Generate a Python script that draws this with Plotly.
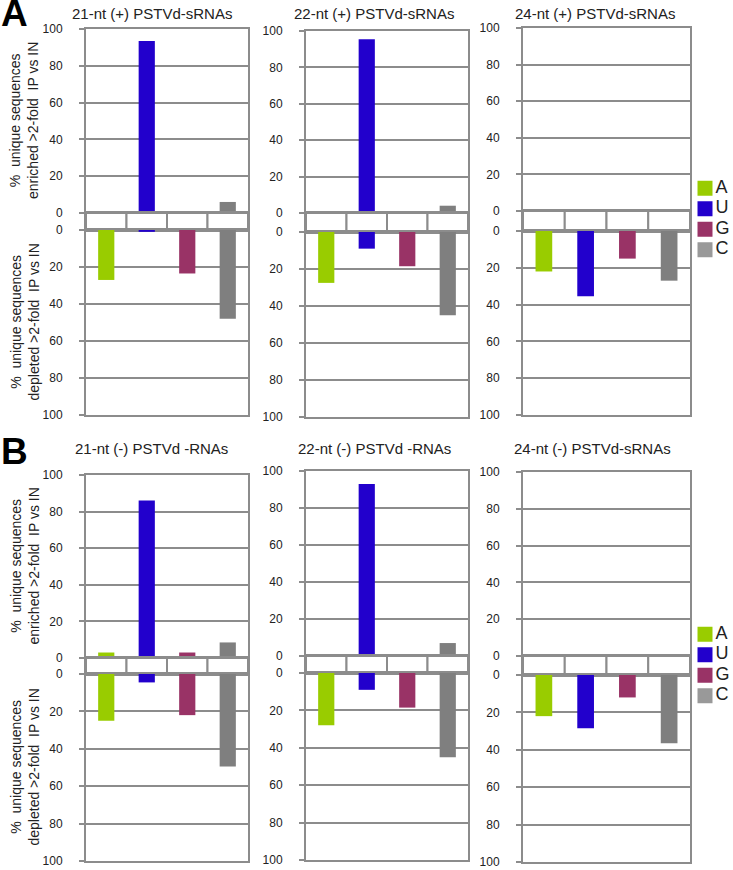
import plotly.graph_objects as go

W, H = 733, 870

nucleotides = ["A", "U", "G", "C"]
nuc_colors = ["#99CC00", "#2200CC", "#993366", "#7F7F7F"]
key_colors = ["#99CC00", "#2200CC", "#993366", "#999999"]
tick_values = [0, 20, 40, 60, 80, 100]

titles_A = ["21-nt (+) PSTVd-sRNAs", "22-nt (+) PSTVd-sRNAs", "24-nt (+) PSTVd-sRNAs"]
titles_B = ["21-nt (-) PSTVd -RNAs", "22-nt (-) PSTVd -RNAs", "24-nt (-) PSTVd-sRNAs"]

# % unique sequences enriched / depleted (>2-fold IP vs IN), order A, U, G, C
a21_enriched = [0, 93.5, 0, 6]
a21_depleted = [27, 1, 23.5, 48]
a22_enriched = [0, 95.5, 0, 4]
a22_depleted = [27.5, 9, 18.5, 45]
a24_enriched = [0, 0, 0, 0]
a24_depleted = [22, 35.5, 15, 27]

b21_enriched = [3, 86, 3, 8.5]
b21_depleted = [25, 4.5, 22, 49.5]
b22_enriched = [0, 93, 0, 7]
b22_depleted = [28, 9, 18.5, 45]
b24_enriched = [0, 0, 0, 0]
b24_depleted = [22, 28.5, 12, 36.5]

band_cells = [1, 1, 1, 1]

panels = [
    ("A", titles_A, [(a21_enriched, a21_depleted), (a22_enriched, a22_depleted), (a24_enriched, a24_depleted)]),
    ("B", titles_B, [(b21_enriched, b21_depleted), (b22_enriched, b22_depleted), (b24_enriched, b24_depleted)]),
]

# layout geometry in pixels
col_x = [(86, 248), (306, 468), (523, 690)]
rows_px = {
    "A": [(29, 213, 230, 415), (31, 213, 232, 417), (28, 211, 231, 415)],
    "B": [(475, 658, 674, 861), (471, 656, 673, 860), (472, 656, 675, 862)],
}
title_px = {"A": [(152, 14), (374, 14), (595, 14)], "B": [(151, 449), (374, 449), (592, 449)]}
key_box = {"A": (697, 713, 178, 260), "B": (697, 713, 624, 706)}
letter_y = {"A": 14, "B": 452}

GRID = "#8C8C8C"
TXT = "#222222"
FONT = "Liberation Sans, Arial, sans-serif"


def fx(p):
    return p / W


def fy(p):
    return 1 - p / H


fig = go.Figure()
layout = {}
annotations = []
ax = 0


def new_axes():
    global ax
    ax += 1
    return "" if ax == 1 else str(ax)


def add_axes(xd, yd, kind):
    sx = new_axes()
    xa = dict(domain=xd, anchor="y" + sx, range=[-0.5, 3.5], type="category",
              categoryorder="array", categoryarray=nucleotides,
              showticklabels=False, ticks="", showgrid=False, zeroline=False,
              showline=True, mirror=True, linecolor=GRID, linewidth=2, fixedrange=True)
    ya = dict(domain=yd, anchor="x" + sx, showline=True, mirror=True, linecolor=GRID,
              linewidth=2, zeroline=False, fixedrange=True)
    if kind == "band":
        ya.update(range=[0, 1], showgrid=False, showticklabels=False, ticks="")
    else:
        ya.update(range=[0, 100] if kind == "up" else [100, 0], tickvals=tick_values,
                  showgrid=True, gridcolor=GRID, gridwidth=2, ticks="outside", ticklen=5,
                  tickwidth=2, tickcolor=GRID, ticklabelstandoff=14,
                  tickfont=dict(family=FONT, size=12, color=TXT))
    layout["xaxis" + sx] = xa
    layout["yaxis" + sx] = ya
    return "x" + sx, "y" + sx


for letter, titles, data in panels:
    for ci, (enr, dep) in enumerate(data):
        x0, x1 = col_x[ci]
        top, z_up, z_dn, bot = rows_px[letter][ci]
        xd = [fx(x0), fx(x1)]
        # upper (enriched)
        xr, yr = add_axes(xd, [fy(z_up), fy(top)], "up")
        for ni, nuc in enumerate(nucleotides):
            fig.add_trace(go.Bar(x=[nuc], y=[enr[ni]], xaxis=xr, yaxis=yr, width=0.4,
                                 marker=dict(color=nuc_colors[ni], line=dict(width=0)),
                                 name=nuc, showlegend=False))
        # band of category cells
        xr, yr = add_axes(xd, [fy(z_dn), fy(z_up)], "band")
        fig.add_trace(go.Bar(x=nucleotides, y=band_cells, xaxis=xr, yaxis=yr, width=1,
                             marker=dict(color="white", line=dict(color=GRID, width=2)),
                             showlegend=False, hoverinfo="skip"))
        # lower (depleted)
        xr, yr = add_axes(xd, [fy(bot), fy(z_dn)], "down")
        for ni, nuc in enumerate(nucleotides):
            fig.add_trace(go.Bar(x=[nuc], y=[dep[ni]], xaxis=xr, yaxis=yr, width=0.4,
                                 marker=dict(color=nuc_colors[ni], line=dict(width=0)),
                                 name=nuc, showlegend=False))
        tx, ty = title_px[letter][ci]
        annotations.append(dict(x=fx(tx), y=fy(ty), xref="paper", yref="paper",
                                xanchor="center", yanchor="middle",
                                text=titles[ci], showarrow=False,
                                font=dict(family=FONT, size=15, color=TXT)))

    # legend keys (A, U, G, C) on their own small category axis
    kx0, kx1, ky0, ky1 = key_box[letter]
    sx = new_axes()
    layout["xaxis" + sx] = dict(domain=[fx(kx0), fx(kx1)], anchor="y" + sx, range=[-1, 1],
                                visible=False, fixedrange=True)
    layout["yaxis" + sx] = dict(domain=[fy(ky1), fy(ky0)], anchor="x" + sx, type="category",
                                categoryorder="array", categoryarray=nucleotides,
                                range=[3.5, -0.5], visible=False, fixedrange=True)
    fig.add_trace(go.Scatter(x=[0] * len(nucleotides), y=nucleotides, text=nucleotides,
                             mode="markers+text", textposition="middle right",
                             cliponaxis=False, xaxis="x" + sx, yaxis="y" + sx,
                             marker=dict(symbol="square", size=15, color=key_colors),
                             textfont=dict(family=FONT, size=18, color=TXT),
                             showlegend=False, hoverinfo="skip"))

    # y-axis titles
    top, z_up, z_dn, bot = rows_px[letter][0]
    annotations.append(dict(x=fx(24), y=fy((top + z_up) / 2), xref="paper", yref="paper",
                            xanchor="center", yanchor="middle",
                            text="%  unique sequences<br>enriched >2-fold  IP vs IN",
                            textangle=-90, showarrow=False,
                            font=dict(family=FONT, size=14, color=TXT)))
    annotations.append(dict(x=fx(24), y=fy((z_dn + bot) / 2), xref="paper", yref="paper",
                            xanchor="center", yanchor="middle",
                            text="%  unique sequences<br>depleted >2-fold  IP vs IN",
                            textangle=-90, showarrow=False,
                            font=dict(family=FONT, size=14, color=TXT)))
    annotations.append(dict(x=fx(-1), y=fy(letter_y[letter]), xref="paper", yref="paper",
                            xanchor="left", yanchor="middle",
                            text="<b>%s</b>" % letter, showarrow=False,
                            font=dict(family=FONT, size=37, color="black")))

fig.update_layout(**layout)
fig.update_layout(width=W, height=H, showlegend=False,
                  margin=dict(l=0, r=0, t=0, b=0, pad=0, autoexpand=False),
                  paper_bgcolor="white", plot_bgcolor="white", barmode="overlay",
                  annotations=annotations, font=dict(family=FONT, color=TXT))

fig.write_html("out.html", config={"displayModeBar": False, "staticPlot": True},
               post_script="document.body.style.margin='0px';")
